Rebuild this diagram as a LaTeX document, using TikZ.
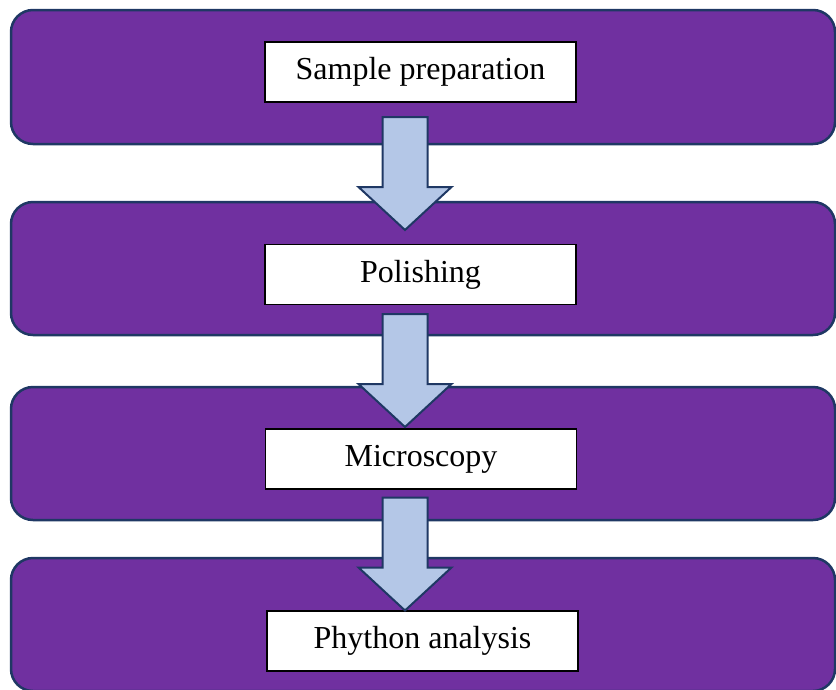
\documentclass[tikz,border=0pt]{standalone}
\usepackage{fontspec}
\setmainfont{Liberation Serif}
\definecolor{boxpurple}{HTML}{7030A0}
\definecolor{navyline}{HTML}{1F3864}
\definecolor{arrowblue}{HTML}{B4C7E7}
\begin{document}
\begin{tikzpicture}[x=1pt,y=-1pt,
  bigbox/.style={draw=navyline, line width=2.5pt, fill=boxpurple, rounded corners=22pt,
    minimum width=824pt, inner sep=0pt},
  labelbox/.style={draw=black, line width=1.3pt, fill=white, minimum width=311pt,
    minimum height=60pt, inner sep=0pt, font=\fontsize{32}{38}\selectfont},
  downarrow/.pic={\draw[draw=navyline, line width=2pt, fill=arrowblue, line join=miter]
    (-22.5,0) -- (22.5,0) -- (22.5,70) -- (46.5,70) -- (0,113) -- (-46.5,70) -- (-22.5,70) -- cycle;}
]
\useasboundingbox (0,0) rectangle (836,689);
\node[bigbox, minimum height=134pt] (b1) at (423,77) {};
\node[bigbox, minimum height=133pt] (b2) at (423,268.5) {};
\node[bigbox, minimum height=133pt] (b3) at (423,453.5) {};
\node[bigbox, minimum height=133pt] (b4) at (423,624.5) {};
\node[labelbox] (t1) at (420.5,72) {Sample preparation};
\node[labelbox] (t2) at (420.5,274.5) {Polishing};
\node[labelbox] (t3) at (421,459) {Microscopy};
\node[labelbox] (t4) at (422.5,641) {Phython analysis};
\pic at (405,117) {downarrow};
\pic at (405,314) {downarrow};
\pic at (405,497.5) {downarrow};
\end{tikzpicture}
\end{document}
